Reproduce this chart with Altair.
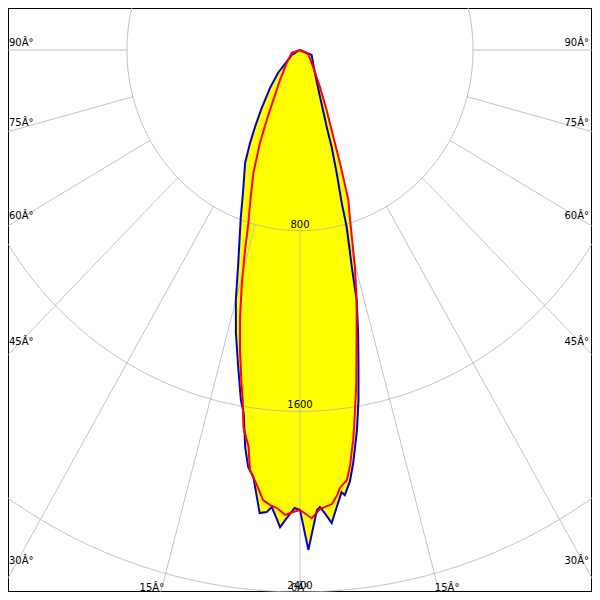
import altair as alt
import pandas as pd
import numpy as np

# ---- photometric curves: angle (deg, negative = left), intensity (cd)
blue_angle = [-90, -60, -50, -45, -39.5, -34.6, -31.4, -29.3, -26.9, -22.6,
              -20.3, -16.6, -15.0, -13.3, -11.5, -10.0, -9.2, -8.2, -7.4, -6.5,
              -5.2, -4.3, -3.7, -3.2, -2.5, -1.7, -0.7, 0, 1.0, 2.2,
              2.6, 3.2, 4.0, 4.8, 5.6, 6.0, 6.9, 7.7, 8.9, 9.9,
              10.9, 12.1, 13.3, 14.0, 15.4, 15.9, 17.3, 18.8, 19.9, 24,
              34, 68, 90]
blue_cd = [0, 44, 80, 144, 218, 312, 399, 472, 561, 686,
           789, 1003, 1146, 1288, 1433, 1574, 1629, 1777, 1862, 1903,
           2059, 2052, 2028, 2062, 2115, 2074, 2028, 2037, 2214, 2039,
           2026, 2054, 2100, 2031, 1967, 1982, 1923, 1841, 1703, 1573,
           1430, 1282, 1138, 990, 813, 704, 570, 454, 363, 228,
           123, 58, 0]

red_angle = [-90, -72.6, -46.9, -34.8, -29.1, -26.4, -24.2, -21.6, -18.8, -17.3,
             -16.0, -14.6, -13.2, -11.8, -10.4, -9.7, -8.9, -7.7, -7.1, -5.9,
             -4.9, -3.9, -3.0, -1.9, -0.9, 0, 1.5, 2.6, 4.2, 5.0,
             5.4, 6.5, 7.2, 7.7, 8.1, 8.9, 10.0, 11.8, 13.3, 14.8,
             17.1, 18.6, 20.3, 21.8, 24.8, 29.4, 39, 65, 90]
red_cd = [0, 40, 84, 162, 253, 346, 452, 586, 716, 803,
          921, 1066, 1214, 1357, 1499, 1572, 1690, 1774, 1874, 1937,
          2000, 2020, 2031, 2060, 2046, 2037, 2074, 2035, 2016, 1978,
          1949, 1916, 1852, 1788, 1745, 1637, 1498, 1280, 1138, 994,
          788, 701, 533, 415, 293, 188, 97, 42, 0]

grid_radii = [800, 1600, 2400]
grid_angles = [-90, -75, -60, -45, -30, -15, 0, 15, 30, 45, 60, 75, 90]
side_label_angles = [30, 45, 60, 75, 90]
bottom_label_angles = [15]

# ---- tables
curve_rows = []
for name, angs, vals in (("blue", blue_angle, blue_cd), ("red", red_angle, red_cd)):
    for i, (a, v) in enumerate(zip(angs, vals)):
        curve_rows.append({"curve": name, "idx": i, "angle": a, "cd": v})
curves = pd.DataFrame(curve_rows)

circle_rows = []
for r in grid_radii:
    for i, a in enumerate(np.arange(0, 361, 2)):
        circle_rows.append({"r": r, "idx": i, "angle": float(a)})
circles = pd.DataFrame(circle_rows)

radials = pd.DataFrame({"angle": grid_angles})
side_labels = pd.DataFrame({"angle": side_label_angles,
                            "label": [f"{a}Â°" for a in side_label_angles]})
bottom_labels = pd.DataFrame({"angle": bottom_label_angles,
                              "label": [f"{a}Â°" for a in bottom_label_angles]})
zero_label = pd.DataFrame({"angle": [0], "label": ["0Â°"]})
ring_labels = pd.DataFrame({"r": grid_radii, "label": [str(r) for r in grid_radii]})

XS = alt.Scale(domain=[-1350, 1350], nice=False, zero=False)
YS = alt.Scale(domain=[-186, 2400], reverse=True, nice=False, zero=False)
RAD = "PI/180"

def xy(x="x", y="y"):
    return dict(x=alt.X(f"{x}:Q", scale=XS, axis=None),
                y=alt.Y(f"{y}:Q", scale=YS, axis=None))

GRID = "#b4b4b4"

circle_layer = alt.Chart(circles).transform_calculate(
    x=f"datum.r*sin(datum.angle*{RAD})", y=f"datum.r*cos(datum.angle*{RAD})"
).mark_line(clip=True, strokeWidth=1, opacity=0.8).encode(
    **xy(), detail="r:N", order="idx:Q", color=alt.value(GRID))

radial_layer = alt.Chart(radials).transform_calculate(
    x=f"800*sin(datum.angle*{RAD})", y=f"800*cos(datum.angle*{RAD})",
    x2=f"4000*sin(datum.angle*{RAD})", y2=f"4000*cos(datum.angle*{RAD})"
).mark_rule(clip=True, strokeWidth=1, opacity=0.8).encode(
    **xy(), x2="x2:Q", y2="y2:Q", color=alt.value(GRID))

curve_base = alt.Chart(curves).transform_calculate(
    x=f"datum.cd*sin(datum.angle*{RAD})", y=f"datum.cd*cos(datum.angle*{RAD})")

fill_layer = curve_base.mark_line(
    clip=True, fill="#ffff00", strokeOpacity=0, interpolate="linear-closed"
).encode(**xy(), detail="curve:N", order="idx:Q")

blue_line = curve_base.transform_filter("datum.curve == 'blue'").mark_line(
    clip=True, strokeWidth=2, color="#0000c8").encode(**xy(), order="idx:Q")
red_line = curve_base.transform_filter("datum.curve == 'red'").mark_line(
    clip=True, strokeWidth=2, color="#ff0000").encode(**xy(), order="idx:Q")

TXT = dict(fontSize=10, font="DejaVu Sans", color="black")

left_lab = alt.Chart(side_labels).transform_calculate(
    x="-1350", y=f"1324*cos(datum.angle*{RAD})/sin(datum.angle*{RAD})"
).mark_text(align="left", baseline="middle", dx=1, dy=-7, **TXT).encode(**xy(), text="label:N")
right_lab = alt.Chart(side_labels).transform_calculate(
    x="1350", y=f"1324*cos(datum.angle*{RAD})/sin(datum.angle*{RAD})"
).mark_text(align="right", baseline="middle", dx=-3, dy=-7, **TXT).encode(**xy(), text="label:N")
bl_lab = alt.Chart(bottom_labels).transform_calculate(
    x=f"-2400*tan(datum.angle*{RAD})", y="2400"
).mark_text(align="center", baseline="middle", dx=-9, dy=-4, **TXT).encode(**xy(), text="label:N")
br_lab = alt.Chart(bottom_labels).transform_calculate(
    x=f"2400*tan(datum.angle*{RAD})", y="2400"
).mark_text(align="center", baseline="middle", dx=8, dy=-4, **TXT).encode(**xy(), text="label:N")
zero_lab = alt.Chart(zero_label).transform_calculate(
    x="0", y="2400"
).mark_text(align="center", baseline="middle", dy=-4, **TXT).encode(**xy(), text="label:N")
ring_lab = alt.Chart(ring_labels).transform_calculate(
    x="0", y="datum.r"
).mark_text(align="center", baseline="middle", dy=-6, **TXT).encode(**xy(), text="label:N")

chart = alt.layer(
    fill_layer, circle_layer, radial_layer, blue_line, red_line,
    left_lab, right_lab, bl_lab, br_lab, zero_lab, ring_lab
).properties(
    width=584, height=584, padding=0,
    autosize=alt.AutoSizeParams(type="none")
).configure_view(stroke="black", strokeWidth=2)

chart.save("out.html", embed_options={"renderer": "svg", "actions": False})
